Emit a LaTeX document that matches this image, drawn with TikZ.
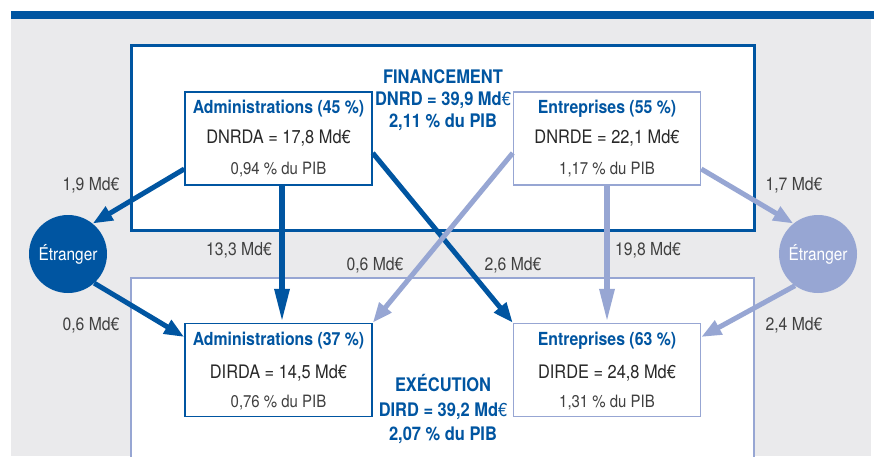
\documentclass[tikz,border=0pt]{standalone}
\usepackage{fontspec}
\setmainfont{TeX Gyre Heros}[FakeStretch=0.88]
\usetikzlibrary{arrows.meta}
\definecolor{dblue}{RGB}{0,85,161}
\definecolor{lblue}{RGB}{151,166,211}
\definecolor{bggray}{RGB}{234,234,236}
\definecolor{txt}{RGB}{40,40,40}
\definecolor{txtl}{RGB}{64,64,64}
\begin{document}
\begin{tikzpicture}[x=1pt,y=-1pt,
  box/.style={draw, fill=white, line width=1.5pt, minimum width=187pt, minimum height=93pt, inner sep=0pt},
  btitle/.style={font=\fontsize{18}{20}\selectfont\bfseries, text=dblue, inner sep=0pt, text height=13pt, text depth=0pt},
  bval/.style={font=\fontsize{18.6}{20}\selectfont, text=txt, inner sep=0pt, text height=13.4pt, text depth=0pt},
  bpct/.style={font=\fontsize{17}{19}\selectfont, text=txtl, inner sep=0pt, text height=12.2pt, text depth=0pt},
  lab/.style={font=\fontsize{17.9}{20}\selectfont, text=txtl, inner sep=0pt, text height=12.9pt, text depth=0pt},
  head/.style={font=\fontsize{18.7}{20}\selectfont\bfseries, text=dblue, inner sep=0pt, text height=13.5pt, text depth=0pt},
  etr/.style={circle, minimum size=78pt, inner sep=0pt, text=white, font=\fontsize{17.5}{20}\selectfont},
  darr/.style={draw=dblue, line width=5pt, -{Triangle[length=20pt,width=15pt]}},
  dvarr/.style={draw=dblue, line width=6pt, -{Triangle[length=34pt,width=14pt]}},
  larr/.style={draw=lblue, line width=5pt, -{Triangle[length=20pt,width=15pt]}},
  lvarr/.style={draw=lblue, line width=6pt, -{Triangle[length=34pt,width=14pt]}}
]
\useasboundingbox (0,0) rectangle (874,456);
\fill[white] (0,0) rectangle (874,456);
\fill[bggray] (11,19) rectangle (871,456);
\fill[dblue] (11,11) rectangle (874,19);

% frames
\draw[dblue, line width=3pt, fill=white] (131,45) rectangle (754,230);
\fill[white] (131,278) rectangle (754,460);
\draw[lblue, line width=2.5pt] (131,462) -- (131,278) -- (754,278) -- (754,462);

% headings
\node[head] (fin) at (443,77) {FINANCEMENT};
\node[head] (dnrd) at (443,99) {DNRD = 39,9 Md{\mdseries €}};
\node[head] (pibf) at (443,121) {2,11 \% du PIB};
\node[head] (exe) at (443,385) {EXÉCUTION};
\node[head] (dird) at (443,410) {DIRD = 39,2 Md{\mdseries €}};
\node[head] (pibe) at (443,434) {2,07 \% du PIB};

% boxes
\node[box, draw=dblue] (a45) at (278.5,138.5) {};
\node[box, draw=lblue] (e55) at (607,138.5) {};
\node[box, draw=dblue] (a37) at (278.5,370) {};
\node[box, draw=lblue] (e63) at (607,370) {};

% foreign circles
\node[etr, fill=dblue] (etrL) at (68,254) {Étranger};
\node[etr, fill=lblue] (etrR) at (818,254) {Étranger};

% arrows
\draw[darr] ([yshift=-30.5pt]a45.west) -- (etrL.51);
\draw[dvarr] ([xshift=3.5pt]a45.south) -- ([xshift=3.5pt]a37.north);
\draw[darr] ([yshift=-14.5pt]a45.east) -- (e63.north west);
\draw[darr] (etrL.-48) -- ([yshift=33pt]a37.west);
\draw[larr] ([yshift=-14.5pt]e55.west) -- (a37.north east);
\draw[lvarr] (e55.south) -- (e63.north);
\draw[larr] ([yshift=-30.5pt]e55.east) -- (etrR.129);
\draw[larr] (etrR.234) -- ([yshift=33pt]e63.east);

% box texts
\node[btitle] (a45t) at (278.5,107) {Administrations (45 \%)};
\node[bval] (a45v) at (278.5,137) {DNRDA = 17,8 Md€};
\node[bpct] (a45p) at (278.5,168) {0,94 \% du PIB};
\node[btitle] (e55t) at (607,107) {Entreprises (55 \%)};
\node[bval] (e55v) at (607,137) {DNRDE = 22,1 Md€};
\node[bpct] (e55p) at (607,168) {1,17 \% du PIB};
\node[btitle] (a37t) at (278.5,339) {Administrations (37 \%)};
\node[bval] (a37v) at (278.5,372) {DIRDA = 14,5 Md€};
\node[bpct] (a37p) at (278.5,401) {0,76 \% du PIB};
\node[btitle] (e63t) at (607,339) {Entreprises (63 \%)};
\node[bval] (e63v) at (607,372) {DIRDE = 24,8 Md€};
\node[bpct] (e63p) at (607,401) {1,31 \% du PIB};

% flow labels
\node[lab] (l19) at (91,184) {1,9 Md€};
\node[lab] (l133) at (239,249) {13,3 Md€};
\node[lab] (l06m) at (375,264) {0,6 Md€};
\node[lab] (l26) at (513,264) {2,6 Md€};
\node[lab] (l198) at (648,249) {19,8 Md€};
\node[lab] (l17) at (794,184) {1,7 Md€};
\node[lab] (l06l) at (91,324) {0,6 Md€};
\node[lab] (l24) at (794,324) {2,4 Md€};
\end{tikzpicture}
\end{document}
